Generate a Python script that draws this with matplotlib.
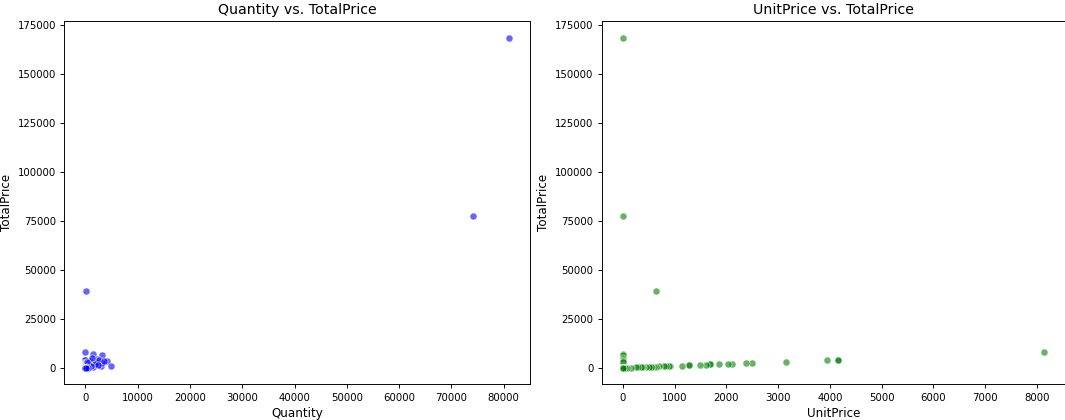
import matplotlib
matplotlib.use("Agg")
import matplotlib.pyplot as plt
import numpy as np

# Data (Quantity, UnitPrice, TotalPrice)
quantity = [80995, 74215, 60,
            1, 1, 1, 1, 1, 1, 1, 1, 1, 1, 1, 1, 1, 1, 1, 1,
            1, 1, 1, 1, 1, 1, 1, 1, 1, 1, 1, 1, 1, 1, 1, 1, 1, 1,
            1400, 3080, 960, 2250, 4180, 4820, 2890, 1410, 1930, 3200, 450,
            1200, 2600, 1800, 2400, 3500, 700, 1000, 300,
            12, 24, 6, 48, 100, 200, 72, 36, 10, 2, 1, 1, 1, 3, 500, 12]
unit_price = [2.08, 1.04, 649.5,
              8142.75, 4161.06, 4161.06, 3949.32, 3155.95, 2500.0, 2382.92,
              2118.74, 2033.10, 1867.86, 1687.17, 1687.17, 1599.26, 1500.36,
              1270.06, 1270.06,
              1136.30, 908.16, 887.52, 840.0, 800.0, 700.0, 650.0, 607.49,
              570.0, 550.94, 500.0, 450.0, 400.0, 376.5, 350.0, 300.0, 250.0, 150.0,
              4.86, 2.15, 3.72, 1.97, 0.77, 0.21, 0.23, 0.25, 1.40, 0.75, 5.33,
              4.2, 1.6, 1.1, 0.55, 0.95, 2.1, 1.0, 10.0,
              2.55, 1.25, 4.95, 0.85, 0.42, 1.65, 1.25, 3.75, 8.5, 12.75, 25.0,
              50.0, 75.0, 35.0, 0.18, 0.42]
total_price = [168469.6, 77183.6, 38970.0,
               8142.75, 4161.06, 4161.06, 3949.32, 3155.95, 2500.0, 2382.92,
               2118.74, 2033.10, 1867.86, 1687.17, 1687.17, 1599.26, 1500.36,
               1270.06, 1270.06,
               1136.30, 908.16, 887.52, 840.0, 800.0, 700.0, 650.0, 607.49,
               570.0, 550.94, 500.0, 450.0, 400.0, 376.5, 350.0, 300.0, 250.0, 150.0,
               6804, 6622, 3571, 4432, 3219, 1012, 665, 352, 2702, 2400, 2400,
               5040, 4160, 1980, 1320, 3325, 1470, 1000, 3000,
               30.6, 30, 29.7, 40.8, 42, 330, 90, 135, 85, 25.5, 25,
               50, 75, 105, 90, 5]

S = 0.85
plt.rcParams.update({
    "xtick.labelsize": 7.3,
    "ytick.labelsize": 7.3,
    "xtick.major.size": 3.5 * S,
    "ytick.major.size": 3.5 * S,
    "xtick.major.pad": 3.5 * S,
    "ytick.major.pad": 3.5 * S,
    "axes.linewidth": 0.8 * S,
    "xtick.major.width": 0.8 * S,
    "ytick.major.width": 0.8 * S,
    "axes.labelpad": 4.0 * S,
    "axes.titlepad": 6.0 * S,
})

fig = plt.figure(figsize=(10.65, 4.2), dpi=100)
ax1 = fig.add_axes([64.3 / 1065, 1 - 384.3 / 420, (530 - 64.3) / 1065, (384.3 - 21) / 420])
ax2 = fig.add_axes([601.7 / 1065, 1 - 384.3 / 420, (1065.5 - 601.7) / 1065, (384.3 - 21) / 420])

ax1.scatter(quantity, total_price, s=36 * S * S, c="blue", alpha=0.6,
            edgecolors="white", linewidths=0.75 * S)
ax1.set_title("Quantity vs. TotalPrice", fontsize=10.2)
ax1.set_xlabel("Quantity", fontsize=8.6)
ax1.set_ylabel("TotalPrice", fontsize=8.6)

ax2.scatter(unit_price, total_price, s=36 * S * S, c="green", alpha=0.6,
            edgecolors="white", linewidths=0.75 * S)
ax2.set_title("UnitPrice vs. TotalPrice", fontsize=10.2)
ax2.set_xlabel("UnitPrice", fontsize=8.6)
ax2.set_ylabel("TotalPrice", fontsize=8.6)

ax1.set_yticks(np.arange(0, 175001, 25000))
ax2.set_yticks(np.arange(0, 175001, 25000))
ax1.set_xticks(np.arange(0, 80001, 10000))
ax2.set_xticks(np.arange(0, 8001, 1000))

fig.savefig("out.png", dpi=100)
